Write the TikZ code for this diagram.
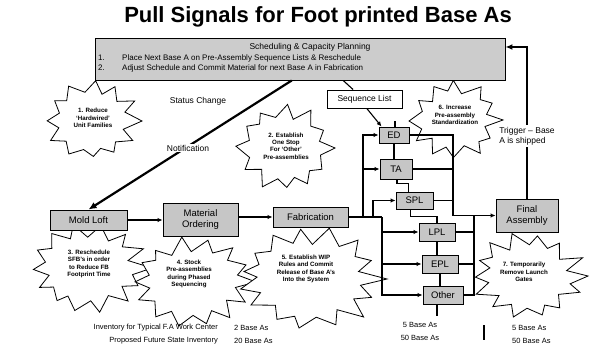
\documentclass[tikz,border=0pt]{standalone}
\usepackage{fontspec}
\setmainfont{Liberation Sans}
\usetikzlibrary{arrows.meta,calc,shadows}
\newcommand\drawburst[6]{% x, y, rx, ry, points, seed
  \pgfmathsetseed{#6}%
  \pgfmathtruncatemacro\burstlast{2*#5-1}%
  \draw[burstline] ($(#1,#2)+(0:{#3} and {#4})$)
    \foreach \i [evaluate=\i as \f using {isodd(\i) ? (0.64+0.10*rnd) : (0.86+0.14*rnd)},
                 evaluate=\i as \a using {\i*180/#5+7*(rnd-0.5)}] in {1,...,\burstlast}
    { -- ($(#1,#2)+(\a:{\f*#3} and {\f*#4})$) } -- cycle;
}
\begin{document}
\begin{tikzpicture}[x=1pt,y=-1pt,
  box/.style={draw, line width=0.9pt, fill=gray!45, inner sep=1pt, align=center,
    font=\fontsize{9.5}{10.5}\selectfont,
    drop shadow={shadow xshift=1.2pt, shadow yshift=-1.2pt, fill=black!75, opacity=1}},
  conn/.style={line width=1.1pt},
  arr/.style={conn,-{Latex[length=5pt,width=4.5pt]}},
  burstline/.style={draw, fill=white, line width=0.8pt, line join=miter},
  bursttext/.style={inner sep=0pt, align=center, font=\fontsize{6.2}{7.4}\selectfont\bfseries},
  lbl/.style={font=\fontsize{8.5}{10}\selectfont, inner sep=1pt},
  small/.style={font=\fontsize{7.5}{9}\selectfont, inner sep=0pt},
  ]
\useasboundingbox (0,0) rectangle (592,353);

% title
\node[font=\fontsize{22}{24}\selectfont\bfseries] (title) at (318,17) {Pull Signals for Foot printed Base As};

% starbursts
\drawburst{93}{121}{49}{41}{12}{3}
\node[bursttext] (s1) at (93,118) {1. Reduce\\‘Hardwired’\\Unit Families};
\drawburst{285}{148}{50}{45}{12}{7}
\node[bursttext] (s2) at (286,146) {2. Establish\\One Stop\\For ‘Other’\\Pre-assemblies};
\drawburst{89}{268}{63}{46}{14}{11}
\node[bursttext] (s3) at (89,264) {3. Reschedule\\SFB's in order\\to Reduce FB\\Footprint Time};
\drawburst{192}{282}{64}{47}{14}{5}
\node[bursttext] (s4) at (189,274) {4. Stock\\Pre-assemblies\\during Phased\\Sequencing};
\drawburst{310}{279}{77}{53}{15}{9}
\node[bursttext] (s5) at (306,269) {5. Establish WIP\\Rules and Commit\\Release of Base A's\\Into the System};
\drawburst{455}{120}{48}{40}{12}{13}
\node[bursttext] (s6) at (455,115) {6. Increase\\Pre-assembly\\Standardization};
\drawburst{528}{276}{60}{45}{14}{17}
\node[bursttext] (s7) at (524,272) {7. Temporarily\\Remove Launch\\Gates};

% scheduling box
\node[box, fill=gray!40, minimum width=410pt, minimum height=42pt] (sched) at (300,59) {};
\node[font=\fontsize{8.5}{10}\selectfont, inner sep=0pt] (schedh) at (310,47) {Scheduling \& Capacity Planning};
\node[font=\fontsize{8}{9}\selectfont, inner sep=0pt, anchor=west] (it1n) at (98,58) {1.};
\node[font=\fontsize{8}{9}\selectfont, inner sep=0pt, anchor=west] (it1) at (122,58) {Place Next Base A on Pre-Assembly Sequence Lists \& Reschedule};
\node[font=\fontsize{8}{9}\selectfont, inner sep=0pt, anchor=west] (it2n) at (98,68) {2.};
\node[font=\fontsize{8}{9}\selectfont, inner sep=0pt, anchor=west] (it2) at (122,68) {Adjust Schedule and Commit Material for next Base A in Fabrication};

% main flow boxes
\node[box, minimum width=77pt, minimum height=20pt] (mold) at (88.5,220) {Mold Loft};
\node[box, minimum width=75pt, minimum height=33pt] (mat) at (200.5,219.5) {Material\\Ordering};
\node[box, minimum width=75pt, minimum height=20pt] (fab) at (310.5,217) {Fabrication};
\node[box, minimum width=62pt, minimum height=33pt] (FA) at (527,215.5) {Final\\Assembly};

% pre-assemblies
\node[box, minimum width=30pt, minimum height=16pt] (ED) at (394,135) {ED};
\node[box, minimum width=32pt, minimum height=20pt] (TA) at (396,169) {TA};
\node[box, minimum width=37pt, minimum height=17pt] (SPL) at (414.5,200.5) {SPL};
\node[box, minimum width=36pt, minimum height=18pt] (LPL) at (437,232) {LPL};
\node[box, minimum width=36pt, minimum height=18pt] (EPL) at (440,264) {EPL};
\node[box, minimum width=40pt, minimum height=18pt] (Other) at (443,295) {Other};

% sequence list
\node[draw, line width=0.9pt, fill=white, minimum width=75pt, minimum height=18pt, font=\fontsize{8.5}{10}\selectfont] (seq) at (364.5,99) {Sequence List};

% junction x positions
\coordinate (jA) at (363,0);
\coordinate (jB) at (373,0);
\coordinate (jC) at (382,0);
\coordinate (jD) at (453,0);
\coordinate (jE) at (474,0);

% main flow arrows
\draw[arr] (mold.east) -- (mold.east -| mat.west);
\draw[arr] (mat.east |- fab.west) -- (fab.west);

% fabrication to pre-assemblies
\draw[conn] (fab.east) -- (jC |- fab.east);
\draw[arr] (jA |- fab.east) |- (ED.west);
\draw[arr] (jA |- TA.west) -- (TA.west);
\draw[arr] (jB |- fab.east) |- (SPL.west);
\draw[arr] (jC |- fab.east) |- (LPL.west);
\draw[arr] (jC |- LPL.west) |- (EPL.west);
\draw[arr] (jC |- EPL.west) |- (Other.west);

% chain between pre-assemblies
\coordinate (edtick) at (395,121);
\draw[conn] (ED.north -| edtick) -- (edtick);
\draw[conn] (ED.south) -- (ED.south |- TA.north);
\draw[conn] ($(TA.south)+(1,0)$) -- ++(0,4) -| ($(SPL.north)+(-6,0)$);
\draw[conn] ($(SPL.south)+(-4,0)$) -- ++(0,7) -| (LPL.north);
\draw[conn] (LPL.south) -- (LPL.south |- EPL.north);
\draw[conn] (EPL.south) -- (EPL.south |- Other.north);
\coordinate (otherend) at (437,316);
\draw[conn] (Other.south -| otherend) -- (otherend);

% pre-assemblies to final assembly
\draw[conn] (ED.east) -| (jD |- FA.west);
\draw[conn] (TA.east) -- (jD |- TA.east);
\draw[conn] (SPL.east) -- (jD |- SPL.east);
\draw[arr] (jD |- FA.west) -- (FA.west);
\draw[conn] (LPL.east) -- (jE |- LPL.east);
\draw[conn] (EPL.east) -- (jE |- EPL.east);
\draw[line width=1.8pt] (Other.east) -| (jE |- FA.west);

% scheduling signals
\draw[line width=2.2pt, -{Latex[length=8pt,width=7pt]}] ($(sched.south west)!0.48!(sched.south east)$) -- (mold.north);
\draw[conn] ($(sched.south west)!0.605!(sched.south east)$) -- ($(seq.north west)!0.35!(seq.north east)$);
\draw[arr] ($(seq.south west)!0.53!(seq.south east)$) -- ($(ED.north west)+(3,0)$);
\draw[line width=2pt, -{Latex[length=7pt,width=6pt]}] (FA.north) |- ($(sched.north east)!0.22!(sched.south east)$);

% labels
\node[lbl] (status) at (198,101) {Status Change};
\node[lbl, fill=white] (notif) at (188,148) {Notification};
\node[lbl, fill=white, align=left, inner sep=2pt] (trig) at (527,136) {Trigger -- Base\\A is shipped};

% bottom inventory text
\node[small, anchor=east] (inv1) at (218,328) {Inventory for Typical F.A Work Center};
\node[small, anchor=east] (inv2) at (218,341) {Proposed Future State Inventory};
\node[small, anchor=west] (b1) at (234,328) {2 Base As};
\node[small, anchor=west] (b2) at (234,341) {20 Base As};
\node[small] (b3) at (420,325) {5 Base As};
\node[small] (b4) at (420,338) {50 Base As};
\coordinate (bartop) at (484,325);
\coordinate (barbot) at (484,340);
\draw[line width=1.6pt] (bartop) -- (barbot);
\node[small, anchor=west] (b5) at (512,328) {5 Base As};
\node[small, anchor=west] (b6) at (512,341) {50 Base As};
\end{tikzpicture}
\end{document}
